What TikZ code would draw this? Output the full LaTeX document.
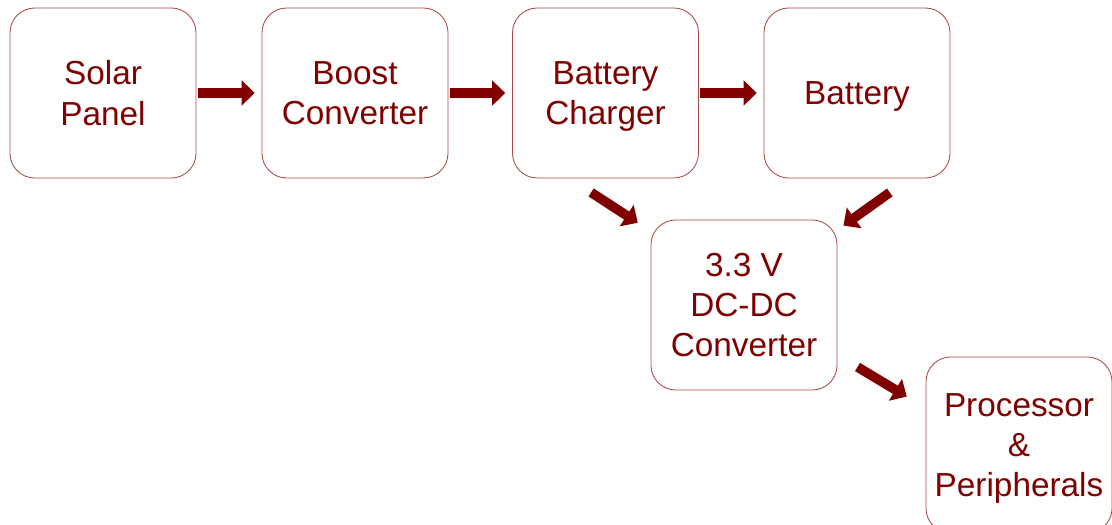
\documentclass[tikz,border=0pt]{standalone}
\usepackage{fontspec}
\setmainfont{Liberation Sans}
\usepackage{tikz}
\usetikzlibrary{arrows.meta, positioning}

\definecolor{maroon}{HTML}{800000}
\definecolor{edgered}{HTML}{A84848}

\begin{document}
\begin{tikzpicture}[
        x=0.025cm, y=-0.025cm,
        block/.style={rectangle, draw=edgered, fill=white, line width=0.6pt, rounded corners=0.62cm, minimum width=4.65cm, minimum height=4.25cm, align=center, text depth=0pt, text=maroon, font=\fontsize{23.7}{28.6}\selectfont},
        flow/.style={-{Triangle[length=0.33cm, width=0.62cm]}, line width=0.24cm, maroon}
    ]
        \useasboundingbox (0,0) rectangle (1112,525);
        \node[block] (sol) at (103,93) {Solar\\Panel};
        \node[block] (bst) at (355,93) {Boost\\Converter};
        \node[block] (chg) at (605.5,93) {Battery\\Charger};
        \node[block] (bat) at (857,93) {Battery};
        \node[block] (dcd) at (744,305) {3.3 V\\DC-DC\\Converter};
        \node[block, minimum height=4.4cm] (pro) at (1019,445) {Processor\\\&\\Peripherals};
        
        \draw[flow, shorten <=1pt, shorten >=0.17cm] (sol) -- (bst);
        \draw[flow, shorten <=1pt, shorten >=0.17cm] (bst) -- (chg);
        \draw[flow, shorten <=1pt, shorten >=0.17cm] (chg) -- (bat);
        \draw[flow] ([xshift=-0.36cm, yshift=-0.35cm]chg.south) -- ([xshift=-0.32cm, yshift=-0.08cm]dcd.north west);
        \draw[flow] ([xshift=0.82cm, yshift=-0.35cm]bat.south) -- ([xshift=0.15cm, yshift=-0.15cm]dcd.north east);
        \draw[flow] ([xshift=0.5cm, yshift=-1.55cm]dcd.east) -- ([xshift=-0.47cm, yshift=-1.0cm]pro.north west);
    \end{tikzpicture}
\end{document}
